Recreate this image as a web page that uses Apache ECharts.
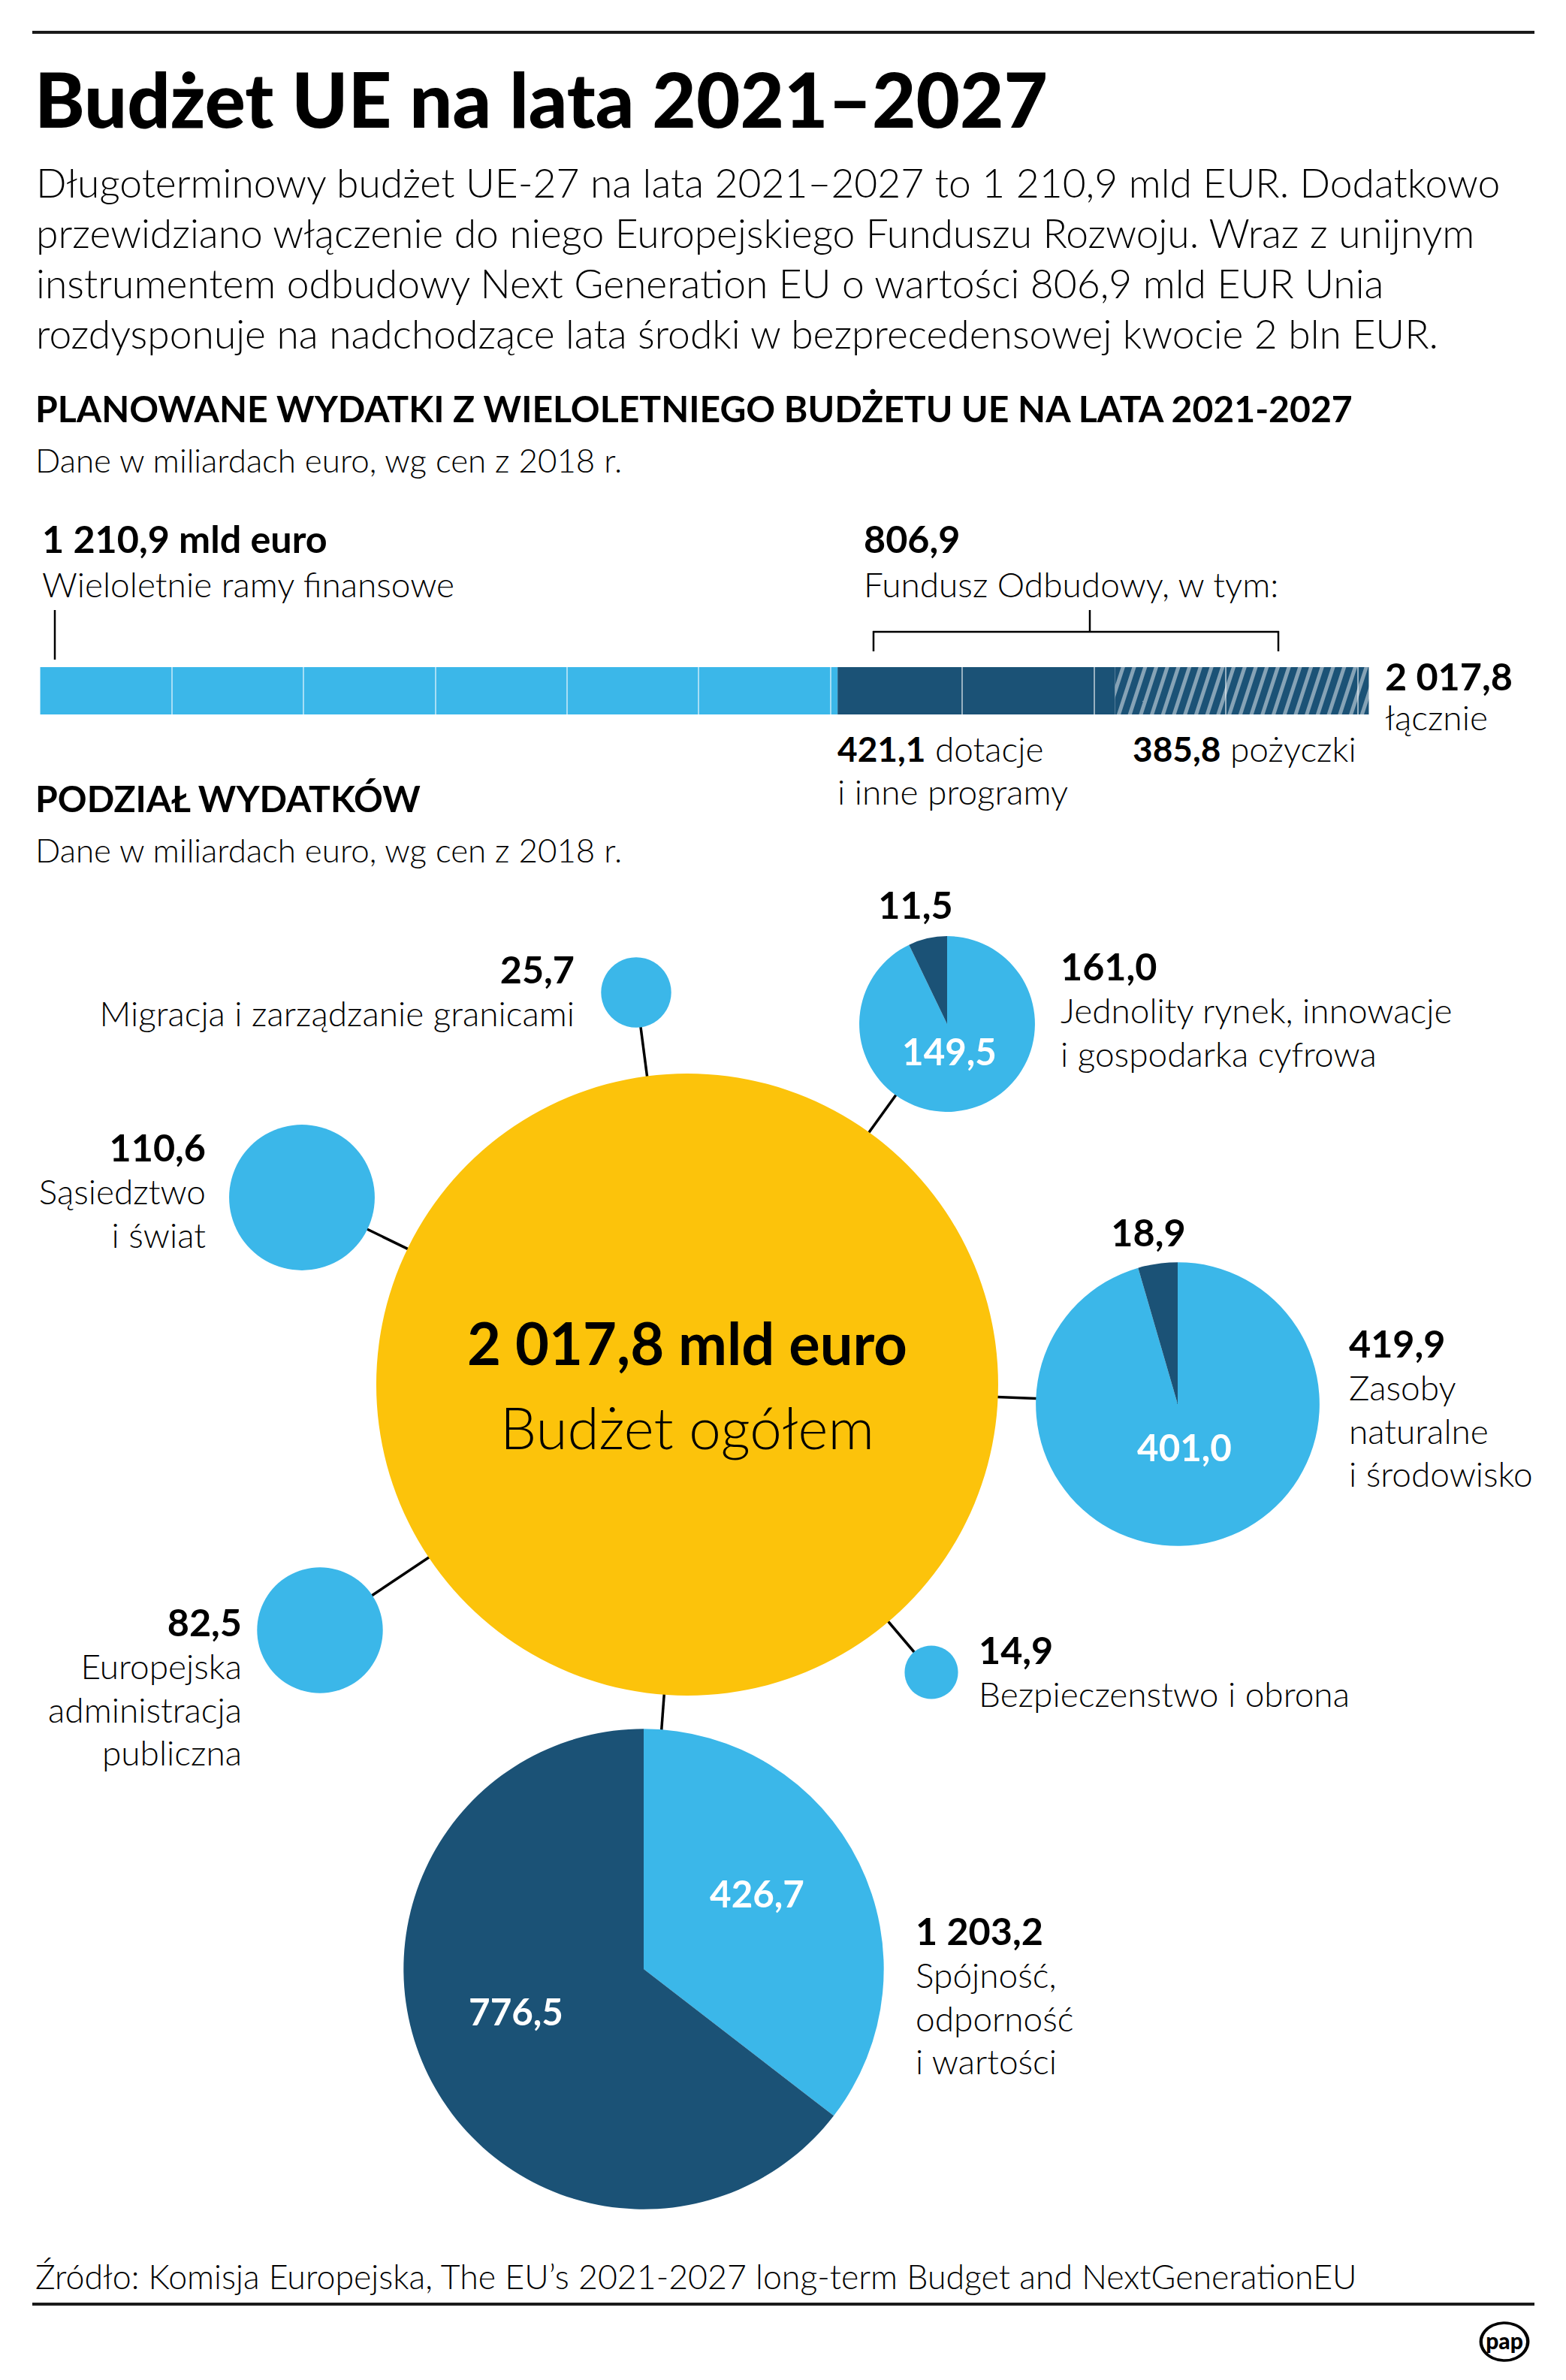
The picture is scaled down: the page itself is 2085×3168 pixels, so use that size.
<!DOCTYPE html>
<html><head><meta charset="utf-8">
<script src="https://cdn.jsdelivr.net/npm/echarts@6/dist/echarts.min.js"></script>
<style>html,body{margin:0;padding:0;background:#fff}#c{width:2085px;height:3168px}</style>
</head><body><div id="c"></div>
<script>
// ---------- DATA ----------
const fundingParts = ['Wieloletnie ramy finansowe', 'dotacje i inne programy', 'pożyczki'];
const fundingValues = [1210.9, 421.1, 385.8];
const areaNames = [
  'Migracja i zarządzanie granicami',
  'Jednolity rynek, innowacje\ni gospodarka cyfrowa',
  'Sąsiedztwo\ni świat',
  'Zasoby\nnaturalne\ni środowisko',
  'Europejska\nadministracja\npubliczna',
  'Bezpieczenstwo i obrona',
  'Spójność,\nodporność\ni wartości'
];
const areaTotals = [25.7, 161.0, 110.6, 419.9, 82.5, 14.9, 1203.2];
const areaPartLight = [25.7, 149.5, 110.6, 401.0, 82.5, 14.9, 426.7];
const areaPartDark = [0, 11.5, 0, 18.9, 0, 0, 776.5];
const budgetTotal = fundingValues.reduce((a, b) => a + b, 0);
const recoveryTotal = fundingValues[1] + fundingValues[2];

// ---------- STYLE / LAYOUT ----------
const LIGHT = '#3bb7e9', DARK = '#1b5276', YELLOW = '#fcc30b';
const FAM = 'Lato, "Noto Sans", sans-serif';
const K = 0.387;
const cv = document.createElement('canvas').getContext('2d');
function fit(text, w, target) { cv.font = w + ' 100px ' + FAM; return 100 * target / cv.measureText(text).width; }
function fmt(v) {
  const s = v.toFixed(1).split('.');
  return s[0].replace(/\B(?=(\d{3})+(?!\d))/g, ' ') + ',' + s[1];
}
const title = 'Budżet UE na lata 2021–2027';
const para = [
  'Długoterminowy budżet UE-27 na lata 2021–2027 to 1 210,9 mld EUR. Dodatkowo',
  'przewidziano włączenie do niego Europejskiego Funduszu Rozwoju. Wraz z unijnym',
  'instrumentem odbudowy Next Generation EU o wartości 806,9 mld EUR Unia',
  'rozdysponuje na nadchodzące lata środki w bezprecedensowej kwocie 2 bln EUR.'
];
const head1 = 'PLANOWANE WYDATKI Z WIELOLETNIEGO BUDŻETU UE NA LATA 2021-2027';
const head2 = 'PODZIAŁ WYDATKÓW';
const sub = 'Dane w miliardach euro, wg cen z 2018 r.';
const source = 'Źródło: Komisja Europejska, The EU’s 2021-2027 long-term Budget and NextGenerationEU';

const fsTitle = fit(title, 900, 1349);
const fsPara = fit(para[1], 300, 1917);
const fsHead = fit(head1, 700, 1758);
const fsSub = fit(sub, 300, 784);
const fsLab = (fit('Wieloletnie ramy finansowe', 300, 542) + fit('Jednolity rynek, innowacje', 300, 529) +
  fit('Bezpieczenstwo i obrona', 300, 494) + fit('Migracja i zarządzanie granicami', 300, 634)) / 4;
const fsLabB = fit('1 210,9 mld euro', 700, 380);
const fsCenB = fit('2 017,8 mld euro', 700, 586);
const fsCenL = fit('Budżet ogółem', 300, 498);
const fsIn = fit('401,0', 700, 126);
const fsSrc = fit(source, 300, 1761);

const G = [];
function txt(text, x, base, fs, w, align, color) {
  G.push({type: 'text', x: x, y: base - K * fs, z: 100, silent: true,
    style: {text: text, font: w + ' ' + fs.toFixed(1) + 'px ' + FAM, fill: color || '#000',
      textAlign: align || 'left', textVerticalAlign: 'middle'}});
}
function rich(parts, x, base, fs) {
  G.push({type: 'text', x: x, y: base - K * fs, z: 100, silent: true,
    style: {text: parts.map(p => '{' + p[1] + '|' + p[0] + '}').join(''), fill: '#000', textAlign: 'left', textVerticalAlign: 'middle',
      rich: {b: {font: '700 ' + fs.toFixed(1) + 'px ' + FAM, fill: '#000'}, l: {font: '300 ' + fs.toFixed(1) + 'px ' + FAM, fill: '#000'}}}});
}
function line(x1, y1, x2, y2, w) {
  G.push({type: 'line', z: 0, silent: true, shape: {x1, y1, x2, y2}, style: {stroke: '#000', lineWidth: w}});
}
function rect(x, y, w, h) {
  G.push({type: 'rect', z: 100, silent: true, shape: {x, y, width: w, height: h}, style: {fill: '#1a1a1a'}});
}

rect(43, 41, 2000, 4);
txt(title, 46, 170, fsTitle, 900);
para.forEach((t, i) => txt(t, 48, 263 + i * 67, fsPara, 300));
txt(head1, 47, 562, fsHead, 700);
txt(sub, 47, 629, fsSub, 300);

txt(fmt(fundingValues[0]) + ' mld euro', 56, 736, fsLabB, 700);
txt(fundingParts[0], 56, 795, fsLab, 300);
line(73, 812, 73, 878, 2.5);
txt(fmt(recoveryTotal), 1150, 736, fsLabB, 700);
txt('Fundusz Odbudowy, w tym:', 1150, 795, fsLab, 300);
line(1451, 812, 1451, 842, 2.5);
line(1162, 841, 1703, 841, 2.5);
line(1163, 840, 1163, 867, 2.5);
line(1702, 840, 1702, 867, 2.5);
txt(fmt(budgetTotal), 1844, 919, fsLabB, 700);
txt('łącznie', 1844, 972, fsLab, 300);
rich([[fmt(fundingValues[1]), 'b'], [' dotacje', 'l']], 1115, 1014, fsLab);
txt('i inne programy', 1115, 1071, fsLab, 300);
rich([[fmt(fundingValues[2]), 'b'], [' ' + fundingParts[2], 'l']], 1508, 1014, fsLab);

txt(head2, 47, 1081, fsHead, 700);
txt(sub, 47, 1148, fsSub, 300);

const BIG = {cx: 915, cy: 1843, r: 414};
const R = v => BIG.r * Math.sqrt(v / budgetTotal);
const layout = [
  {cx: 847, cy: 1321, lx: 765, ly: 1309, align: 'right'},
  {cx: 1261, cy: 1363, lx: 1412, ly: 1305, align: 'left', sx: 1219, sy: 1223, ix: 1264, iy: 1418},
  {cx: 402, cy: 1594, lx: 274, ly: 1546, align: 'right'},
  {cx: 1568, cy: 1869, lx: 1796, ly: 1807, align: 'left', sx: 1529, sy: 1659, ix: 1577, iy: 1945},
  {cx: 426, cy: 2170, lx: 322, ly: 2178, align: 'right'},
  {cx: 1240, cy: 2226, lx: 1303, ly: 2215, align: 'left'},
  {cx: 857, cy: 2621, lx: 1219, ly: 2589, align: 'left', ix: 1008, iy: 2539, dx: 687, dy: 2696}
];
const STEP = 57.5;

const HATCH = {symbol: 'rect', symbolSize: 1, color: 'rgba(255,255,255,0.47)', dashArrayX: [1, 0], dashArrayY: [5, 9], rotation: -Math.PI * 72 / 180};
const series = [];
fundingParts.forEach((n, i) => {
  const it = {color: i === 0 ? LIGHT : DARK};
  if (i === 2) it.decal = HATCH;
  series.push({type: 'bar', name: n, stack: 'total', barWidth: 63, silent: true, data: [fundingValues[i]], itemStyle: it});
});

series.push({type: 'pie', center: [BIG.cx, BIG.cy], radius: R(budgetTotal), silent: true, startAngle: 90,
  itemStyle: {borderWidth: 0}, labelLine: {show: false},
  label: {show: true, position: 'center', formatter: '{b|' + fmt(budgetTotal) + ' mld euro}\n{l|Budżet ogółem}',
    rich: {b: {fontFamily: FAM, fontWeight: 700, fontSize: fsCenB, lineHeight: 112, color: '#000'},
           l: {fontFamily: FAM, fontWeight: 300, fontSize: fsCenL, lineHeight: 112, color: '#000'}}},
  data: [{name: 'Budżet ogółem', value: budgetTotal, itemStyle: {color: YELLOW}}]});

areaNames.forEach((n, i) => {
  const L = layout[i];
  const data = [{name: n, value: areaPartLight[i], itemStyle: {color: LIGHT}}];
  if (areaPartDark[i] > 0) data.push({name: n + ' (NGEU)', value: areaPartDark[i], itemStyle: {color: DARK}});
  series.push({type: 'pie', center: [L.cx, L.cy], radius: R(areaTotals[i]), startAngle: 90, clockwise: true,
    silent: true, itemStyle: {borderWidth: 0}, labelLine: {show: false}, label: {show: false}, data: data});
  line(BIG.cx, BIG.cy, L.cx, L.cy, 3.5);
  txt(fmt(areaTotals[i]), L.lx, L.ly, fsLabB, 700, L.align);
  n.split('\n').forEach((t, j) => txt(t, L.lx, L.ly + STEP * (j + 1), fsLab, 300, L.align));
  if (L.sx) txt(fmt(areaPartDark[i]), L.sx, L.sy, fsLabB, 700, 'center');
  if (L.ix) txt(fmt(areaPartLight[i]), L.ix, L.iy, fsIn, 700, 'center', '#fff');
  if (L.dx) txt(fmt(areaPartDark[i]), L.dx, L.dy, fsIn, 700, 'center', '#fff');
});

txt(source, 47, 3047, fsSrc, 300);
rect(43, 3065, 2000, 4);
G.push({type: 'circle', z: 100, silent: true, x: 2003, y: 3117, scaleX: 1.25, shape: {cx: 0, cy: 0, r: 25},
  style: {fill: '#fff', stroke: '#000', lineWidth: 3.5}});
G.push({type: 'text', z: 101, silent: true, x: 2003, y: 3115,
  style: {text: 'pap', font: '900 30px ' + FAM, fill: '#000', textAlign: 'center', textVerticalAlign: 'middle'}});

const chart = echarts.init(document.getElementById('c'), null, {renderer: 'svg', width: 2085, height: 3168});
chart.setOption({
  animation: false,
  backgroundColor: '#fff',
  grid: {left: 53, top: 888, width: 1770, height: 63, containLabel: false},
  xAxis: {type: 'value', min: 0, max: budgetTotal, interval: 200, z: 5,
    axisLine: {show: false}, axisTick: {show: false}, axisLabel: {show: false},
    splitLine: {show: true, lineStyle: {color: 'rgba(255,255,255,0.55)', width: 2}}},
  yAxis: {type: 'category', data: ['2021–2027'], show: false},
  series: series,
  graphic: {elements: G}
});
</script></body></html>
